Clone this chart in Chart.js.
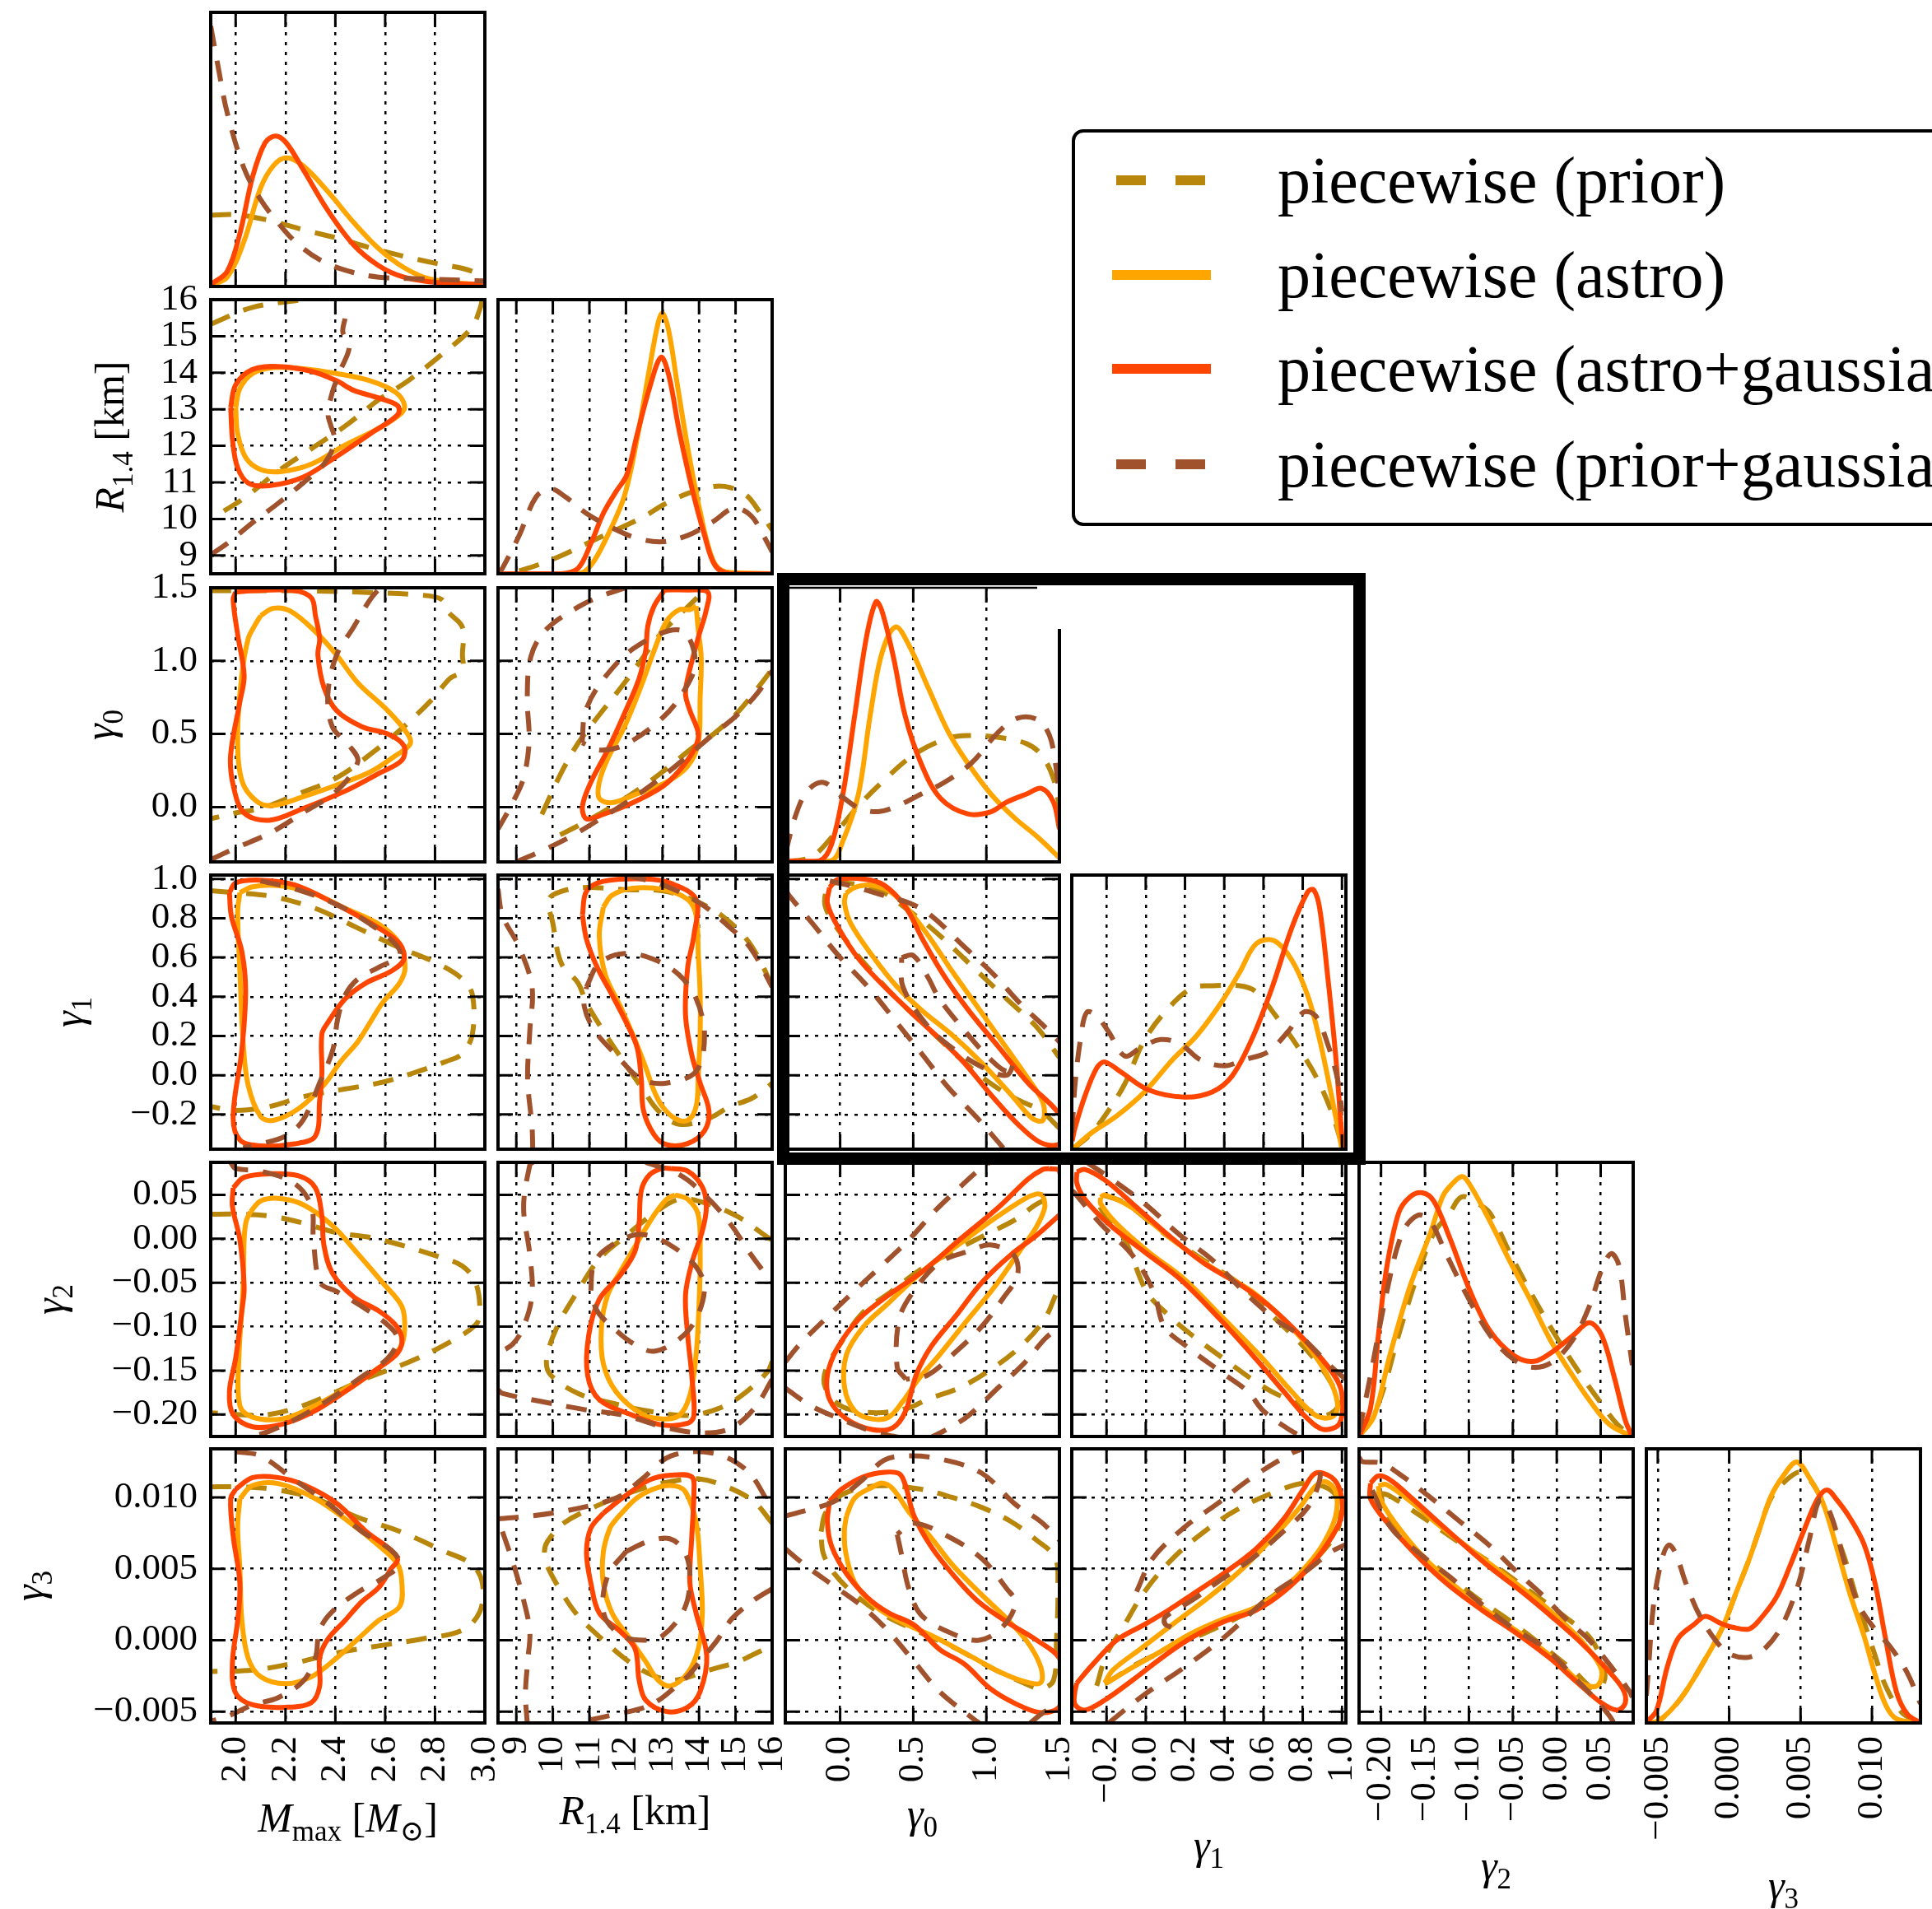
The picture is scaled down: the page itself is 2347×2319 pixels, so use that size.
<!DOCTYPE html>
<html>
<head>
<meta charset="utf-8">
<script src="https://cdn.jsdelivr.net/npm/chart.js"></script>
<style>
  html, body { margin: 0; padding: 0; background: #fff; }
  body { width: 2347px; height: 2319px; position: relative; overflow: hidden; font-family: "Liberation Serif", serif; }
  canvas { position: absolute; }
  #frame { position: absolute; left: 944px; top: 696px; width: 685px; height: 689px; border: 15px solid #000; z-index: 5; }
  #legend { position: absolute; left: 1302px; top: 157px; width: 1150px; height: 482px; box-sizing: border-box;
            border: 4px solid #000; border-radius: 14px; background: #fff; z-index: 6; }
  #legend .sw { position: absolute; height: 12px; }
  #legend .lab { position: absolute; left: 246px; font-size: 80px; line-height: 86px; white-space: nowrap; color: #000; }
</style>
</head>
<body>
<div id="legend"></div>
<div id="frame"></div>
<script>
// ---- tick values ----
const mmaxTicks = [2.0, 2.2, 2.4, 2.6, 2.8, 3.0];
const rTicks = [9, 10, 11, 12, 13, 14, 15, 16];
const g0Ticks = [0.0, 0.5, 1.0, 1.5];
const g1Ticks = [-0.2, 0.0, 0.2, 0.4, 0.6, 0.8, 1.0];
const g2Ticks = [-0.20, -0.15, -0.10, -0.05, 0.00, 0.05];
const g3Ticks = [-0.005, 0.000, 0.005, 0.010];

// ---- series ----
const seriesNames = ['piecewise (prior)', 'piecewise (astro)', 'piecewise (astro+gaussian)', 'piecewise (prior+gaussian)'];
const seriesColors = ['#B8860B', '#FFA500', '#FF4500', '#A0522D'];
const seriesDashed = [true, false, false, true];

// ---- M_max marginal ----
const mmax_pdf_prior = [[1.9,0.26],[2.0,0.262],[2.135,0.241],[2.27,0.207],[2.405,0.177],[2.54,0.141],[2.675,0.11],[2.81,0.083],[2.91,0.066],[3.0,0.04]];
const mmax_pdf_astro = [[1.9,0.004],[1.966,0.034],[2.034,0.166],[2.1,0.359],[2.152,0.441],[2.203,0.469],[2.27,0.441],[2.371,0.345],[2.473,0.234],[2.574,0.138],[2.675,0.069],[2.776,0.028],[2.91,0.011],[3.0,0.007]];
const mmax_pdf_astroG = [[1.9,0.007],[1.966,0.055],[2.017,0.193],[2.068,0.4],[2.118,0.524],[2.16,0.549],[2.203,0.524],[2.27,0.428],[2.371,0.276],[2.473,0.152],[2.574,0.076],[2.675,0.034],[2.81,0.014],[3.0,0.007]];
const mmax_pdf_priorG = [[1.9,0.95],[1.93,0.8],[1.966,0.634],[2.034,0.43],[2.1,0.317],[2.169,0.234],[2.236,0.166],[2.338,0.097],[2.456,0.055],[2.574,0.034],[2.743,0.028],[3.0,0.02]];

// ---- R_1.4 vs M_max ----
const r_mmax_astro = [[2.0,13.05],[2.017,13.57],[2.068,13.98],[2.152,14.14],[2.27,14.11],[2.405,13.98],[2.54,13.78],[2.641,13.47],[2.678,13.1],[2.658,12.85],[2.574,12.48],[2.439,12.02],[2.304,11.5],[2.186,11.3],[2.101,11.35],[2.042,11.66],[2.008,12.33],[2.0,13.05]];
const r_mmax_astroG = [[1.98,13.05],[2.0,13.67],[2.068,14.09],[2.169,14.17],[2.304,14.04],[2.405,13.78],[2.473,13.52],[2.574,13.31],[2.65,13.1],[2.65,12.85],[2.54,12.33],[2.405,11.71],[2.27,11.14],[2.135,10.91],[2.051,10.98],[2.008,11.4],[1.988,12.12],[1.98,13.05]];
const r_mmax_prior1 = [[1.9,15.33],[2.068,15.79],[2.27,16.0],[2.3,16.05]];
const r_mmax_prior2 = [[2.99,16.0],[2.98,15.74],[2.946,15.22],[2.827,14.5],[2.692,13.78],[2.574,13.26],[2.439,12.54],[2.304,11.92],[2.169,11.3],[2.034,10.57],[1.9,10.0]];
const r_mmax_priorG = [[1.9,9.02],[1.966,9.33],[2.068,9.9],[2.169,10.42],[2.27,10.98],[2.354,11.5],[2.397,12.12],[2.38,12.6],[2.371,12.85],[2.388,13.47],[2.422,14.09],[2.456,14.71],[2.43,15.12],[2.439,15.48]];

// ---- R_1.4 marginal ----
const r_pdf_prior = [[9.08,0.01],[9.54,0.03],[10.23,0.066],[10.92,0.11],[11.73,0.16],[12.54,0.212],[13.0,0.25],[13.69,0.293],[14.38,0.318],[14.84,0.315],[15.3,0.286],[15.65,0.227],[16.0,0.16]];
const r_pdf_astro = [[8.5,0],[10.69,0],[11.04,0.03],[11.5,0.14],[11.96,0.285],[12.3,0.49],[12.65,0.754],[12.88,0.915],[13.0,0.95],[13.17,0.886],[13.4,0.695],[13.69,0.46],[14.03,0.227],[14.38,0.05],[14.73,0.007],[16,0]];
const r_pdf_astroG = [[8.5,0],[10.23,0],[10.69,0.02],[11.04,0.11],[11.38,0.22],[11.73,0.3],[12.02,0.36],[12.3,0.505],[12.65,0.68],[12.96,0.79],[13.17,0.725],[13.46,0.52],[13.8,0.315],[14.15,0.14],[14.44,0.03],[14.84,0],[16,0]];
const r_pdf_priorG = [[8.5,0],[8.62,0.02],[9.08,0.14],[9.54,0.28],[9.94,0.31],[10.35,0.28],[10.92,0.22],[11.62,0.168],[12.3,0.13],[13.0,0.117],[13.69,0.14],[14.38,0.19],[14.96,0.24],[15.42,0.212],[15.76,0.14],[16.0,0.08]];

// ---- gamma0 vs M_max ----
const g0_mmax_astro = [[2.101,1.31],[2.152,1.36],[2.22,1.34],[2.32,1.2],[2.405,1.04],[2.49,0.85],[2.61,0.66],[2.69,0.5],[2.7,0.43],[2.64,0.35],[2.54,0.24],[2.405,0.15],[2.27,0.07],[2.15,0.01],[2.084,0.04],[2.025,0.18],[2.008,0.5],[2.025,0.905],[2.05,1.15],[2.076,1.24],[2.101,1.31]];
const g0_mmax_astroG = [[2.0,1.47],[2.068,1.48],[2.236,1.48],[2.304,1.43],[2.32,1.31],[2.337,1.15],[2.33,1.04],[2.354,0.82],[2.405,0.66],[2.506,0.55],[2.61,0.5],[2.675,0.42],[2.667,0.32],[2.574,0.23],[2.44,0.11],[2.27,-0.01],[2.135,-0.09],[2.034,-0.04],[1.99,0.15],[1.98,0.36],[2.017,0.72],[2.034,0.9],[2.008,1.18],[1.99,1.42],[2.0,1.47]];
const g0_mmax_prior = [[1.9,1.48],[2.0,1.48],[2.236,1.48],[2.49,1.47],[2.743,1.45],[2.827,1.42],[2.85,1.34],[2.91,1.23],[2.91,1.04],[2.91,0.93],[2.86,0.88],[2.79,0.74],[2.675,0.55],[2.54,0.36],[2.405,0.2],[2.236,0.08],[2.1,-0.01],[2.0,-0.04],[1.9,-0.08]];
const g0_mmax_priorG = [[1.9,-0.36],[2.0,-0.28],[2.135,-0.18],[2.27,-0.04],[2.405,0.11],[2.49,0.31],[2.456,0.42],[2.388,0.55],[2.37,0.77],[2.405,1.04],[2.473,1.23],[2.54,1.42],[2.59,1.52]];

// ---- gamma0 vs R_1.4 ----
const g0_r_astro = [[13.92,1.375],[13.75,1.35],[13.46,1.35],[13.11,1.27],[12.77,1.07],[12.42,0.83],[11.96,0.55],[11.5,0.33],[11.27,0.17],[11.27,0.06],[11.62,0.03],[12.3,0.09],[13.11,0.17],[13.69,0.28],[13.98,0.44],[14.03,0.75],[14.06,1.02],[13.98,1.21],[13.92,1.375]];
const g0_r_astroG = [[13.06,1.485],[13.69,1.485],[14.24,1.47],[14.2,1.35],[13.98,1.16],[13.69,0.88],[13.63,0.77],[13.75,0.66],[13.98,0.5],[13.86,0.39],[13.46,0.25],[13.0,0.14],[12.19,0.03],[11.38,-0.05],[10.92,-0.08],[10.81,0.005],[11.04,0.17],[11.5,0.39],[11.96,0.64],[12.36,0.88],[12.54,1.07],[12.6,1.24],[12.77,1.375],[13.06,1.485]];
const g0_r_prior1 = [[9.7,-0.05],[10.2,0.22],[10.7,0.44],[11.3,0.64],[11.9,0.83],[12.4,1.0],[12.9,1.17],[13.4,1.3],[13.9,1.42],[14.2,1.5]];
const g0_r_prior2 = [[10.2,-0.19],[10.9,-0.1],[11.6,0.0],[12.4,0.13],[13.2,0.28],[13.9,0.42],[14.4,0.5],[15.1,0.66],[15.9,0.91],[16.0,0.95]];
const g0_r_priorG1 = [[12.0,1.5],[11.4,1.45],[10.7,1.37],[9.8,1.21],[9.4,1.03],[9.3,0.75],[9.35,0.45],[9.2,0.2],[8.9,0.03],[8.5,-0.15]];
const g0_r_priorG2 = [[9.0,-0.375],[9.7,-0.3],[10.5,-0.2],[11.3,-0.08],[12.0,0.03],[12.8,0.17],[13.6,0.33],[14.4,0.5],[15.0,0.62],[15.6,0.78],[16.0,0.93]];
const g0_r_priorG3 = [[10.8,0.44],[10.9,0.66],[11.4,0.88],[12.3,1.1],[13.5,1.21],[13.9,1.0],[13.6,0.8],[13.0,0.61],[12.0,0.43],[11.3,0.39],[10.8,0.44]];

// ---- gamma0 marginal ----
const g0_pdf_prior = [[-0.375,0],[-0.195,0.019],[-0.035,0.104],[0.125,0.204],[0.285,0.29],[0.499,0.389],[0.712,0.447],[0.872,0.461],[1.085,0.454],[1.272,0.432],[1.379,0.389],[1.459,0.304],[1.5,0.2]];
const g0_pdf_astro = [[-0.375,0],[-0.061,0.004],[0.019,0.076],[0.125,0.247],[0.205,0.532],[0.285,0.76],[0.379,0.857],[0.472,0.789],[0.605,0.632],[0.739,0.475],[0.872,0.361],[1.032,0.247],[1.192,0.161],[1.352,0.09],[1.5,0.015]];
const g0_pdf_astroG = [[-0.375,0.004],[-0.141,0.004],[-0.061,0.061],[0.019,0.247],[0.099,0.532],[0.179,0.817],[0.245,0.949],[0.285,0.917],[0.365,0.746],[0.445,0.532],[0.552,0.361],[0.685,0.233],[0.872,0.175],[1.032,0.183],[1.139,0.218],[1.272,0.247],[1.379,0.268],[1.459,0.218],[1.5,0.12]];
const g0_pdf_priorG = [[-0.375,0.03],[-0.301,0.175],[-0.221,0.261],[-0.115,0.29],[-0.008,0.247],[0.125,0.197],[0.259,0.183],[0.392,0.204],[0.552,0.247],[0.712,0.29],[0.899,0.361],[1.085,0.475],[1.219,0.525],[1.352,0.518],[1.432,0.461],[1.472,0.361],[1.5,0.24]];

// ---- gamma1 vs M_max ----
const g1_mmax_astro = [[2.017,0.93],[2.068,0.96],[2.17,0.966],[2.304,0.93],[2.44,0.85],[2.574,0.77],[2.658,0.67],[2.68,0.55],[2.658,0.47],[2.59,0.37],[2.54,0.27],[2.49,0.17],[2.422,0.07],[2.354,-0.05],[2.253,-0.17],[2.152,-0.23],[2.1,-0.21],[2.05,-0.05],[2.03,0.17],[2.017,0.53],[2.008,0.83],[2.017,0.93]];
const g1_mmax_astroG = [[1.975,0.93],[2.0,0.98],[2.1,0.994],[2.236,0.97],[2.405,0.87],[2.574,0.75],[2.658,0.67],[2.675,0.59],[2.624,0.53],[2.523,0.47],[2.44,0.39],[2.371,0.27],[2.346,0.21],[2.346,0.01],[2.337,-0.13],[2.32,-0.31],[2.236,-0.35],[2.1,-0.36],[2.017,-0.33],[1.99,-0.21],[2.025,0.13],[2.04,0.43],[2.025,0.63],[1.983,0.81],[1.975,0.93]];
const g1_mmax_prior = [[1.9,0.94],[2.0,0.93],[2.15,0.91],[2.32,0.85],[2.49,0.75],[2.658,0.65],[2.81,0.57],[2.91,0.49],[2.95,0.41],[2.95,0.21],[2.91,0.11],[2.844,0.07],[2.71,0.01],[2.574,-0.04],[2.44,-0.07],[2.27,-0.11],[2.135,-0.16],[2.0,-0.18],[1.9,-0.16]];
const g1_mmax_priorG = [[2.1,0.99],[2.236,0.95],[2.405,0.87],[2.54,0.77],[2.64,0.67],[2.658,0.61],[2.574,0.55],[2.49,0.49],[2.44,0.41],[2.41,0.29],[2.39,0.13],[2.34,-0.03],[2.27,-0.23],[2.2,-0.31],[2.1,-0.35],[2.03,-0.37]];

// ---- gamma1 vs R_1.4 ----
const g1_r_astro = [[11.38,0.856],[11.62,0.917],[12.19,0.953],[13.0,0.947],[13.69,0.896],[13.92,0.815],[13.98,0.612],[14.03,0.41],[14.03,0.205],[13.98,0.002],[13.92,-0.16],[13.69,-0.23],[13.34,-0.22],[13.0,-0.16],[12.77,-0.08],[12.54,0.04],[12.19,0.205],[11.85,0.35],[11.44,0.51],[11.27,0.71],[11.38,0.856]];
const g1_r_astroG = [[10.81,0.815],[10.92,0.937],[11.38,0.988],[12.54,1.0],[13.23,0.978],[13.92,0.896],[13.86,0.713],[13.69,0.55],[13.63,0.307],[13.8,0.104],[14.03,-0.04],[14.27,-0.18],[14.15,-0.283],[13.69,-0.348],[13.11,-0.354],[12.77,-0.303],[12.48,-0.18],[12.42,-0.02],[12.3,0.144],[11.96,0.287],[11.62,0.409],[11.21,0.551],[10.92,0.693],[10.81,0.815]];
const g1_r_prior = [[16.0,0.45],[15.76,0.55],[15.3,0.693],[14.61,0.815],[13.92,0.886],[13.0,0.94],[12.0,0.945],[10.92,0.957],[10.23,0.937],[9.89,0.896],[10.0,0.774],[10.23,0.571],[10.69,0.47],[10.92,0.368],[11.38,0.226],[11.96,0.063],[12.42,-0.06],[12.88,-0.18],[13.46,-0.25],[14.27,-0.22],[14.84,-0.16],[15.42,-0.12],[15.88,-0.06],[16.0,-0.04]];
const g1_r_priorG1 = [[8.5,0.95],[8.62,0.815],[9.08,0.652],[9.43,0.45],[9.37,0.226],[9.31,-0.02],[9.43,-0.26],[9.45,-0.375]];
const g1_r_priorG2 = [[12.0,1.02],[13.0,0.97],[14.0,0.88],[14.8,0.76],[15.4,0.65],[16.0,0.45]];
const g1_r_priorG3 = [[10.92,0.45],[11.27,0.57],[11.96,0.62],[12.77,0.59],[13.46,0.51],[13.92,0.39],[14.15,0.205],[13.92,0.02],[13.11,-0.04],[12.42,-0.02],[11.73,0.104],[11.15,0.226],[10.86,0.35],[10.92,0.45]];

// ---- gamma1 vs gamma0 ----
const g1_g0_astro = [[0.04,0.927],[0.1,0.957],[0.217,0.968],[0.36,0.927],[0.477,0.835],[0.62,0.693],[0.766,0.53],[0.94,0.348],[1.113,0.165],[1.286,-0.018],[1.387,-0.14],[1.387,-0.23],[1.315,-0.22],[1.17,-0.1],[0.968,0.063],[0.766,0.205],[0.564,0.327],[0.39,0.45],[0.217,0.612],[0.072,0.774],[0.03,0.876],[0.04,0.927]];
const g1_g0_astroG = [[-0.072,0.957],[-0.014,0.998],[0.16,1.0],[0.303,0.968],[0.448,0.856],[0.564,0.693],[0.708,0.51],[0.882,0.327],[1.084,0.144],[1.286,-0.04],[1.5,-0.2],[1.52,-0.3],[1.49,-0.354],[1.37,-0.343],[1.23,-0.26],[1.055,-0.12],[0.824,0.083],[0.564,0.266],[0.332,0.43],[0.13,0.59],[-0.014,0.754],[-0.087,0.876],[-0.072,0.957]];
const g1_g0_prior = [[1.5,-0.27],[1.37,-0.18],[1.2,-0.12],[1.026,-0.04],[0.824,0.083],[0.62,0.226],[0.39,0.388],[0.19,0.55],[0.014,0.713],[-0.1,0.856],[-0.09,0.95],[-0.04,0.98],[0.246,0.95],[0.477,0.835],[0.68,0.713],[0.91,0.55],[1.14,0.388],[1.344,0.246],[1.5,0.09]];
const g1_g0_priorG1 = [[-0.375,0.95],[-0.35,0.917],[-0.19,0.774],[-0.014,0.612],[0.19,0.45],[0.39,0.266],[0.564,0.104],[0.737,-0.06],[0.94,-0.22],[1.084,-0.343],[1.12,-0.375]];
const g1_g0_priorG2 = [[-0.07,0.99],[0.1,0.96],[0.28,0.92],[0.477,0.876],[0.62,0.815],[0.853,0.652],[1.055,0.51],[1.228,0.368],[1.4,0.246],[1.5,0.17]];
const g1_g0_priorG3 = [[0.42,0.6],[0.5,0.61],[0.6,0.5],[0.68,0.388],[0.853,0.226],[1.026,0.083],[1.14,0.02],[1.185,0.063],[1.14,0.0],[1.0,0.03],[0.8,0.12],[0.6,0.25],[0.43,0.45],[0.42,0.6]];

// ---- gamma1 marginal ----
const g1_pdf_prior = [[-0.375,0.0],[-0.29,0.048],[-0.209,0.121],[-0.107,0.238],[-0.006,0.399],[0.116,0.515],[0.237,0.588],[0.339,0.596],[0.48,0.596],[0.562,0.574],[0.663,0.486],[0.765,0.384],[0.866,0.267],[0.947,0.136],[1.0,0.015]];
const g1_pdf_astro = [[-0.375,0],[-0.27,0.063],[-0.148,0.121],[-0.006,0.209],[0.136,0.326],[0.258,0.413],[0.38,0.53],[0.48,0.647],[0.562,0.749],[0.653,0.761],[0.744,0.69],[0.826,0.559],[0.886,0.4],[0.947,0.194],[1.0,0.0]];
const g1_pdf_astroG = [[-0.375,0.03],[-0.361,0.077],[-0.31,0.194],[-0.25,0.296],[-0.209,0.318],[-0.128,0.282],[0.014,0.216],[0.197,0.19],[0.339,0.209],[0.44,0.267],[0.54,0.4],[0.643,0.588],[0.744,0.807],[0.826,0.939],[0.856,0.946],[0.886,0.88],[0.927,0.632],[0.968,0.34],[0.998,0.063],[1.008,0]];
const g1_pdf_priorG = [[-0.375,0.06],[-0.361,0.231],[-0.33,0.413],[-0.3,0.5],[-0.25,0.486],[-0.189,0.428],[-0.107,0.34],[-0.026,0.37],[0.075,0.4],[0.176,0.384],[0.278,0.326],[0.4,0.304],[0.5,0.326],[0.623,0.355],[0.724,0.428],[0.805,0.5],[0.866,0.486],[0.927,0.384],[0.978,0.253],[1.0,0.136]];

// ---- gamma2 vs M_max ----
const g2_mmax_astroG = [[1.99,0.058],[2.034,0.07],[2.135,0.074],[2.253,0.0716],[2.32,0.058],[2.346,0.026],[2.354,-0.007],[2.388,-0.039],[2.473,-0.066],[2.574,-0.082],[2.641,-0.098],[2.667,-0.114],[2.65,-0.13],[2.574,-0.147],[2.439,-0.174],[2.304,-0.198],[2.186,-0.211],[2.068,-0.214],[1.99,-0.2],[1.975,-0.174],[2.0,-0.136],[2.025,-0.082],[2.034,-0.055],[2.017,-0.001],[1.987,0.037],[1.99,0.058]];
const g2_mmax_astro = [[2.06,0.031],[2.1,0.043],[2.17,0.046],[2.27,0.039],[2.388,0.015],[2.49,-0.017],[2.59,-0.05],[2.667,-0.077],[2.678,-0.104],[2.658,-0.125],[2.574,-0.147],[2.439,-0.171],[2.304,-0.192],[2.186,-0.205],[2.068,-0.203],[2.017,-0.19],[2.013,-0.136],[2.03,-0.055],[2.034,-0.001],[2.042,0.02],[2.06,0.031]];
const g2_mmax_prior = [[1.9,0.028],[2.0,0.028],[2.135,0.026],[2.27,0.018],[2.405,0.007],[2.54,0.0015],[2.675,-0.008],[2.81,-0.02],[2.91,-0.031],[2.963,-0.05],[2.98,-0.082],[2.963,-0.098],[2.844,-0.12],[2.69,-0.141],[2.54,-0.157],[2.405,-0.174],[2.27,-0.19],[2.135,-0.2],[2.0,-0.2],[1.9,-0.198]];
const g2_mmax_priorG = [[1.98,0.087],[2.0,0.08],[2.1,0.077],[2.236,0.063],[2.304,0.037],[2.312,-0.001],[2.34,-0.05],[2.405,-0.06],[2.506,-0.077],[2.61,-0.098],[2.65,-0.114],[2.61,-0.136],[2.506,-0.157],[2.37,-0.184],[2.236,-0.206],[2.135,-0.219],[2.068,-0.225]];

// ---- gamma2 vs R_1.4 ----
const g2_r_astro = [[13.34,0.05],[13.69,0.045],[13.98,0.027],[14.03,-0.018],[14.01,-0.064],[13.92,-0.132],[13.75,-0.178],[13.46,-0.201],[13.0,-0.205],[12.42,-0.199],[11.73,-0.174],[11.38,-0.142],[11.33,-0.1],[11.5,-0.064],[11.85,-0.037],[12.3,-0.005],[12.77,0.027],[13.11,0.045],[13.34,0.05]];
const g2_r_astroG = [[13.23,0.08],[13.69,0.077],[14.09,0.059],[14.2,0.036],[14.09,0.009],[13.8,-0.028],[13.63,-0.064],[13.69,-0.11],[13.8,-0.155],[13.86,-0.201],[13.69,-0.21],[13.0,-0.212],[12.19,-0.201],[11.27,-0.183],[10.95,-0.155],[10.98,-0.11],[11.27,-0.069],[11.85,-0.041],[12.25,-0.014],[12.36,0.018],[12.42,0.055],[12.65,0.073],[13.0,0.08],[13.23,0.08]];
const g2_r_prior = [[16.0,0.0],[15.94,0.0],[15.07,0.025],[14.15,0.041],[13.46,0.045],[12.8,0.03],[11.96,0.002],[11.27,-0.023],[10.69,-0.059],[10.12,-0.1],[9.83,-0.137],[9.94,-0.155],[10.69,-0.176],[11.62,-0.187],[12.6,-0.196],[13.69,-0.201],[14.61,-0.192],[15.3,-0.174],[15.88,-0.151],[16.0,-0.14]];
const g2_r_priorG1 = [[9.45,0.087],[9.37,0.084],[9.2,0.036],[9.37,-0.018],[9.43,-0.064],[9.2,-0.1],[8.9,-0.12],[8.5,-0.13]];
const g2_r_priorG2 = [[8.5,-0.172],[8.62,-0.176],[9.66,-0.185],[10.81,-0.194],[11.96,-0.201],[13.11,-0.215],[14.15,-0.221],[14.9,-0.215],[15.53,-0.192],[16.0,-0.16]];
const g2_r_priorG3 = [[12.54,0.087],[13.46,0.073],[14.15,0.05],[14.84,0.018],[15.42,-0.018],[16.0,-0.05]];
const g2_r_priorG4 = [[11.04,-0.059],[11.1,-0.032],[11.38,-0.014],[12.19,0.004],[12.77,0.002],[13.46,-0.014],[13.92,-0.032],[14.15,-0.055],[13.92,-0.091],[13.46,-0.114],[12.77,-0.128],[12.19,-0.119],[11.62,-0.1],[11.21,-0.082],[11.04,-0.059]];

// ---- gamma2 vs gamma0 ----
const g2_g0_astro = [[1.387,0.05],[1.4,0.036],[1.344,0.014],[1.228,-0.014],[1.055,-0.055],[0.853,-0.096],[0.68,-0.132],[0.535,-0.16],[0.42,-0.187],[0.332,-0.203],[0.217,-0.205],[0.1,-0.196],[0.03,-0.169],[0.043,-0.132],[0.16,-0.1],[0.332,-0.073],[0.564,-0.037],[0.824,-0.005],[1.055,0.023],[1.257,0.045],[1.344,0.051],[1.387,0.05]];
const g2_g0_astroG = [[1.43,0.08],[1.5,0.077],[1.52,0.03],[1.5,0.027],[1.344,0.004],[1.17,-0.018],[0.968,-0.05],[0.795,-0.087],[0.621,-0.123],[0.52,-0.155],[0.448,-0.196],[0.361,-0.215],[0.217,-0.217],[0.043,-0.205],[-0.072,-0.183],[-0.087,-0.155],[-0.014,-0.123],[0.13,-0.091],[0.332,-0.064],[0.564,-0.037],[0.824,0.0],[1.084,0.036],[1.286,0.068],[1.387,0.079],[1.43,0.08]];
const g2_g0_prior = [[1.474,-0.064],[1.4,-0.091],[1.257,-0.119],[1.055,-0.146],[0.824,-0.169],[0.592,-0.183],[0.477,-0.192],[0.246,-0.198],[0.014,-0.191],[-0.1,-0.17],[-0.1,-0.15],[0.0,-0.12],[0.15,-0.085],[0.35,-0.06],[0.55,-0.035],[0.8,-0.012],[1.0,0.005],[1.2,0.022],[1.35,0.04],[1.5,0.05]];
const g2_g0_priorG1 = [[-0.375,-0.14],[-0.27,-0.119],[-0.1,-0.091],[0.1,-0.059],[0.275,-0.032],[0.477,0.0],[0.65,0.032],[0.795,0.055],[0.94,0.077],[1.02,0.087]];
const g2_g0_priorG2 = [[-0.375,-0.17],[-0.2,-0.19],[0.0,-0.205],[0.2,-0.218],[0.45,-0.228]];
const g2_g0_priorG3 = [[0.6,-0.228],[0.75,-0.215],[0.88,-0.201],[1.084,-0.169],[1.257,-0.142],[1.4,-0.114],[1.5,-0.1]];
const g2_g0_priorG4 = [[0.45,-0.16],[0.39,-0.146],[0.405,-0.091],[0.506,-0.059],[0.68,-0.027],[0.88,-0.014],[1.026,-0.007],[1.185,-0.018],[1.214,-0.041],[1.113,-0.068],[0.968,-0.1],[0.795,-0.128],[0.6,-0.155],[0.45,-0.16]];

// ---- gamma2 vs gamma1 ----
const g2_g1_astroG = [[-0.351,0.076],[-0.31,0.079],[-0.209,0.067],[-0.067,0.04],[0.116,0.004],[0.298,-0.028],[0.5,-0.055],[0.663,-0.083],[0.826,-0.119],[0.947,-0.151],[0.998,-0.174],[0.988,-0.21],[0.907,-0.217],[0.826,-0.205],[0.704,-0.174],[0.562,-0.137],[0.38,-0.092],[0.176,-0.046],[-0.006,-0.015],[-0.189,0.017],[-0.31,0.045],[-0.351,0.063],[-0.351,0.076]];
const g2_g1_astro = [[-0.23,0.047],[-0.209,0.05],[-0.067,0.035],[0.136,-0.001],[0.339,-0.033],[0.542,-0.06],[0.704,-0.092],[0.846,-0.128],[0.947,-0.165],[0.978,-0.192],[0.947,-0.203],[0.866,-0.201],[0.744,-0.174],[0.582,-0.133],[0.38,-0.087],[0.197,-0.046],[0.014,-0.015],[-0.148,0.017],[-0.23,0.04],[-0.23,0.047]];
const g2_g1_prior = [[-0.22,0.05],[-0.1,0.04],[0.1,0.005],[0.3,-0.025],[0.5,-0.055],[0.643,-0.087],[0.826,-0.128],[0.947,-0.165],[0.98,-0.19],[0.907,-0.201],[0.75,-0.185],[0.643,-0.174],[0.542,-0.16],[0.4,-0.137],[0.237,-0.11],[0.116,-0.087],[0.004,-0.06],[-0.107,-0.001],[-0.23,0.035],[-0.22,0.05]];
const g2_g1_priorG1 = [[-0.3,0.087],[-0.168,0.067],[-0.006,0.04],[0.176,0.004],[0.339,-0.024],[0.5,-0.06],[0.663,-0.092],[0.785,-0.11],[0.947,-0.146],[1.02,-0.16]];
const g2_g1_priorG2 = [[-0.375,0.055],[-0.351,0.049],[-0.23,0.017],[-0.067,-0.019],[0.04,-0.06],[0.095,-0.1],[0.217,-0.124],[0.38,-0.151],[0.521,-0.174],[0.6,-0.196],[0.744,-0.219],[0.8,-0.225]];

// ---- gamma2 marginal ----
const g2_pdf_prior = [[-0.225,0],[-0.203,0.119],[-0.18,0.37],[-0.158,0.593],[-0.14,0.741],[-0.122,0.815],[-0.108,0.874],[-0.09,0.85],[-0.076,0.815],[-0.053,0.667],[-0.026,0.504],[0.001,0.356],[0.028,0.222],[0.051,0.119],[0.069,0.044],[0.086,0.0]];
const g2_pdf_astro = [[-0.225,0],[-0.208,0.074],[-0.19,0.296],[-0.167,0.548],[-0.144,0.741],[-0.13,0.874],[-0.122,0.911],[-0.108,0.948],[-0.099,0.919],[-0.076,0.785],[-0.053,0.637],[-0.031,0.504],[-0.008,0.356],[0.015,0.237],[0.037,0.133],[0.06,0.044],[0.086,0.0]];
const g2_pdf_astroG = [[-0.225,0],[-0.212,0.104],[-0.203,0.37],[-0.194,0.607],[-0.18,0.815],[-0.167,0.874],[-0.153,0.889],[-0.14,0.859],[-0.122,0.726],[-0.099,0.533],[-0.076,0.385],[-0.049,0.296],[-0.026,0.274],[-0.004,0.311],[0.019,0.37],[0.037,0.415],[0.051,0.37],[0.065,0.222],[0.078,0.059],[0.086,0.0]];
const g2_pdf_priorG = [[-0.225,0.015],[-0.212,0.222],[-0.194,0.519],[-0.176,0.741],[-0.158,0.807],[-0.144,0.785],[-0.126,0.667],[-0.103,0.519],[-0.076,0.37],[-0.049,0.281],[-0.026,0.252],[-0.004,0.274],[0.019,0.356],[0.037,0.474],[0.051,0.607],[0.062,0.667],[0.071,0.622],[0.078,0.444],[0.086,0.26]];

// ---- gamma3 vs M_max ----
const g3_mmax_astroG = [[2.0,0.01057],[2.068,0.01139],[2.17,0.01139],[2.27,0.0109],[2.405,0.00959],[2.523,0.00762],[2.624,0.0063],[2.65,0.00565],[2.624,0.005],[2.574,0.00368],[2.506,0.00269],[2.439,0.00138],[2.37,0.00007],[2.337,-0.00125],[2.337,-0.00322],[2.304,-0.00437],[2.2,-0.0047],[2.068,-0.00453],[2.0,-0.00371],[1.987,-0.00158],[2.008,0.00138],[2.017,0.004],[1.99,0.00729],[1.98,0.00991],[2.0,0.01057]];
const g3_mmax_astro = [[2.017,0.00991],[2.068,0.01083],[2.17,0.01097],[2.32,0.00991],[2.456,0.00827],[2.574,0.00663],[2.65,0.00532],[2.667,0.004],[2.658,0.00236],[2.574,0.00138],[2.49,0.00007],[2.405,-0.00125],[2.304,-0.00256],[2.2,-0.00305],[2.1,-0.00256],[2.05,-0.00125],[2.025,0.00138],[2.017,0.005],[2.008,0.00795],[2.017,0.00991]];
const g3_mmax_prior = [[1.9,0.01074],[2.0,0.01074],[2.15,0.01057],[2.32,0.00991],[2.49,0.0086],[2.658,0.00762],[2.827,0.0063],[2.946,0.00532],[2.99,0.004],[2.98,0.002],[2.91,0.0007],[2.743,0.00007],[2.574,-0.0004],[2.405,-0.0009],[2.236,-0.0016],[2.068,-0.0021],[1.9,-0.0022]];
const g3_mmax_priorG = [[2.0,0.0132],[2.1,0.0129],[2.236,0.01123],[2.37,0.00959],[2.506,0.00762],[2.624,0.0063],[2.658,0.00532],[2.59,0.00433],[2.49,0.00335],[2.388,0.002],[2.337,0.0007],[2.32,-0.00125],[2.27,-0.00289],[2.169,-0.00404],[2.068,-0.00453],[1.966,-0.00535],[1.9,-0.00568]];

// ---- gamma3 vs R_1.4 ----
const g3_r_astroG = [[11.38,0.0089],[11.96,0.01006],[12.65,0.01123],[13.23,0.01155],[13.8,0.01144],[13.86,0.01038],[13.8,0.0072],[13.75,0.004],[13.92,0.0019],[14.21,-0.0011],[14.03,-0.0036],[13.69,-0.0047],[13.11,-0.005],[12.54,-0.0042],[12.36,-0.0028],[12.25,-0.0006],[11.85,0.0006],[11.27,0.0019],[11.04,0.004],[10.92,0.00614],[11.04,0.00784],[11.38,0.0089]];
const g3_r_astro = [[11.73,0.00847],[12.3,0.00996],[12.88,0.0107],[13.34,0.0108],[13.63,0.01038],[13.92,0.00826],[14.03,0.00508],[14.09,0.0019],[13.98,-0.0006],[13.69,-0.0023],[13.23,-0.0032],[12.88,-0.0028],[12.54,-0.0015],[12.08,0.0002],[11.62,0.0019],[11.38,0.004],[11.38,0.00614],[11.56,0.00784],[11.73,0.00847]];
const g3_r_prior = [[16.0,0.0082],[15.5,0.0097],[14.8,0.0107],[14.0,0.0113],[13.2,0.0111],[12.3,0.0105],[11.2,0.0094],[10.3,0.0082],[9.85,0.0069],[9.77,0.0062],[9.83,0.0053],[10.23,0.0034],[10.69,0.0017],[11.38,0.0],[12.08,-0.0015],[12.77,-0.0025],[13.34,-0.0028],[14.27,-0.0021],[15.07,-0.0015],[15.65,-0.0008],[16.0,-0.0004]];
const g3_r_priorG1 = [[8.5,0.0085],[9.0,0.0086],[10.0,0.0089],[11.15,0.0095],[11.85,0.0101],[12.4,0.0112],[13.23,0.0129],[14.38,0.0131],[15.3,0.0119],[15.88,0.0097],[16.0,0.009]];
const g3_r_priorG2 = [[8.62,0.0076],[8.9,0.0055],[9.2,0.0028],[9.37,0.0006],[9.31,-0.0015],[9.25,-0.0038],[9.3,-0.0058]];
const g3_r_priorG3 = [[12.0,0.0062],[12.6,0.0069],[13.2,0.0071],[13.6,0.0062],[13.75,0.0045],[13.6,0.0022],[13.0,0.0003],[12.5,0.0],[11.9,0.0003],[11.4,0.0018],[11.5,0.0045],[12.0,0.0062]];
const g3_r_priorG4 = [[11.0,-0.0056],[11.7,-0.0052],[12.4,-0.0048],[12.9,-0.0042],[13.34,-0.0033],[13.7,-0.0025],[14.15,-0.0011],[14.5,0.0],[14.9,0.0015],[15.5,0.0028],[16.0,0.0036]];

// ---- gamma3 vs gamma0 ----
const g3_g0_astroG = [[-0.072,0.00975],[0.014,0.0106],[0.159,0.01144],[0.303,0.01176],[0.405,0.01165],[0.448,0.0108],[0.506,0.00869],[0.621,0.00657],[0.766,0.00466],[0.94,0.00275],[1.142,0.00127],[1.344,0.0],[1.5,-0.00127],[1.52,-0.003],[1.5,-0.00466],[1.373,-0.00508],[1.2,-0.00445],[1.026,-0.00339],[0.853,-0.0017],[0.68,-0.00064],[0.506,0.00106],[0.332,0.00191],[0.188,0.00297],[0.043,0.00466],[-0.058,0.00657],[-0.087,0.00826],[-0.072,0.00975]];
const g3_g0_astro = [[0.043,0.00869],[0.1,0.00996],[0.217,0.0107],[0.289,0.011],[0.361,0.01059],[0.477,0.0089],[0.621,0.0072],[0.766,0.0053],[0.968,0.00318],[1.142,0.00148],[1.286,-0.0002],[1.373,-0.0019],[1.373,-0.00297],[1.286,-0.00297],[1.113,-0.00233],[0.882,-0.00106],[0.65,0.0002],[0.419,0.00127],[0.246,0.00233],[0.1,0.00403],[0.038,0.00614],[0.029,0.00763],[0.043,0.00869]];
const g3_g0_prior = [[-0.13,0.0076],[-0.1,0.0089],[0.014,0.0102],[0.246,0.0108],[0.535,0.0106],[0.766,0.01],[0.968,0.0093],[1.17,0.0083],[1.344,0.007],[1.47,0.0058],[1.49,0.004],[1.48,0.0],[1.46,-0.0028],[1.373,-0.0034],[1.257,-0.003],[1.026,-0.0019],[0.795,-0.0006],[0.535,0.0006],[0.275,0.0019],[0.1,0.0032],[-0.043,0.0047],[-0.116,0.0061],[-0.13,0.0076]];
const g3_g0_priorG1 = [[-0.375,0.0087],[-0.3,0.0089],[-0.043,0.0097],[0.15,0.0112],[0.3,0.0126],[0.448,0.0129],[0.68,0.0127],[0.968,0.0117],[1.2,0.0095],[1.373,0.0083],[1.5,0.007]];
const g3_g0_priorG2 = [[-0.375,0.0064],[-0.246,0.0053],[-0.043,0.0038],[0.159,0.0023],[0.332,0.0006],[0.506,-0.0015],[0.68,-0.0036],[0.91,-0.0055],[0.95,-0.0058]];
const g3_g0_priorG3 = [[0.39,0.0074],[0.42,0.006],[0.47,0.0036],[0.56,0.0017],[0.78,0.0004],[0.95,0.0],[1.1,0.0008],[1.2,0.0026],[1.14,0.0036],[0.97,0.0057],[0.75,0.0072],[0.5,0.0082],[0.39,0.0074]];
const g3_g0_priorG4 = [[1.3,-0.0058],[1.4,-0.005],[1.5,-0.0045]];

// ---- gamma3 vs gamma1 ----
const g3_g1_astroG = [[-0.351,-0.003],[-0.27,-0.0017],[-0.148,0.0],[-0.006,0.0011],[0.116,0.0021],[0.237,0.0032],[0.4,0.0047],[0.562,0.0064],[0.704,0.0085],[0.805,0.0106],[0.866,0.0117],[0.947,0.0114],[0.992,0.0104],[0.998,0.0087],[0.947,0.0072],[0.846,0.0053],[0.704,0.0034],[0.562,0.0021],[0.4,0.0013],[0.237,0.0002],[0.095,-0.0011],[-0.067,-0.0028],[-0.209,-0.0042],[-0.31,-0.0049],[-0.361,-0.0045],[-0.361,-0.0036],[-0.351,-0.003]];
const g3_g1_astro = [[-0.209,-0.003],[-0.168,-0.0021],[-0.026,-0.0006],[0.136,0.0011],[0.339,0.0032],[0.5,0.0051],[0.663,0.0074],[0.785,0.0093],[0.866,0.0108],[0.917,0.0111],[0.968,0.0104],[0.968,0.0087],[0.907,0.0068],[0.826,0.0053],[0.704,0.0036],[0.562,0.0023],[0.4,0.0015],[0.237,0.0005],[0.075,-0.0008],[-0.067,-0.0019],[-0.189,-0.0029],[-0.209,-0.003]];
const g3_g1_prior = [[-0.25,-0.0032],[-0.2,-0.001],[-0.12,0.0008],[-0.006,0.0034],[0.136,0.0057],[0.298,0.0076],[0.46,0.0091],[0.663,0.0104],[0.82,0.011],[0.96,0.0103],[0.99,0.0085],[0.95,0.007],[0.75,0.0042],[0.55,0.0022],[0.35,0.0008],[0.15,-0.0004],[-0.05,-0.0017],[-0.2,-0.003],[-0.25,-0.0032]];
const g3_g1_priorG1 = [[-0.047,0.0034],[0.034,0.0057],[0.197,0.0079],[0.359,0.0095],[0.542,0.0114],[0.744,0.0131],[0.8,0.0134]];
const g3_g1_priorG2 = [[0.13,0.0009],[0.1,0.0011],[0.095,0.0015],[0.116,0.0018],[0.237,0.0028],[0.38,0.0042],[0.54,0.0057],[0.684,0.0074],[0.826,0.0093],[0.886,0.0112],[0.886,0.0125]];
const g3_g1_priorG3 = [[-0.189,-0.0058],[-0.006,-0.0038],[0.197,-0.0019],[0.4,0.0002],[0.643,0.0032],[0.805,0.0047],[0.947,0.0062],[1.02,0.0067]];

// ---- gamma3 vs gamma2 ----
const g3_g2_astroG = [[-0.212,0.011],[-0.203,0.0115],[-0.189,0.0112],[-0.166,0.01],[-0.139,0.0085],[-0.108,0.0068],[-0.076,0.0051],[-0.04,0.0034],[-0.003,0.0015],[0.028,-0.0002],[0.055,-0.0019],[0.075,-0.0034],[0.078,-0.0044],[0.069,-0.0049],[0.051,-0.0044],[0.024,-0.003],[-0.007,-0.0013],[-0.044,0.0004],[-0.085,0.0021],[-0.126,0.004],[-0.162,0.0061],[-0.194,0.0083],[-0.212,0.0099],[-0.212,0.011]];
const g3_g2_astro = [[-0.203,0.0108],[-0.194,0.0109],[-0.166,0.0097],[-0.135,0.0081],[-0.099,0.0064],[-0.062,0.0047],[-0.026,0.003],[0.006,0.0013],[0.033,-0.0004],[0.051,-0.0021],[0.046,-0.0032],[0.028,-0.003],[0.001,-0.0015],[-0.035,0.0002],[-0.076,0.0019],[-0.116,0.0038],[-0.153,0.0059],[-0.185,0.0083],[-0.201,0.0099],[-0.203,0.0108]];
const g3_g2_prior = [[-0.2,0.0103],[-0.19,0.0101],[-0.15,0.0085],[-0.11,0.0068],[-0.07,0.0052],[-0.03,0.0034],[0.01,0.0016],[0.04,0.0],[0.055,-0.0025],[0.045,-0.0035],[0.02,-0.0022],[-0.01,-0.0007],[-0.05,0.0012],[-0.09,0.0029],[-0.13,0.0048],[-0.165,0.0066],[-0.195,0.0088],[-0.2,0.0103]];
const g3_g2_priorG1 = [[-0.225,0.0128],[-0.221,0.0125],[-0.2,0.0124],[-0.176,0.0115],[-0.144,0.01],[-0.11,0.0083],[-0.076,0.0066],[-0.044,0.0047],[-0.017,0.0032],[0.01,0.0015],[0.037,0.0],[0.065,-0.0021],[0.083,-0.0036],[0.086,-0.004]];
const g3_g2_priorG2 = [[-0.21,0.0105],[-0.189,0.0079],[-0.157,0.0061],[-0.121,0.0044],[-0.085,0.0025],[-0.049,0.0008],[-0.012,-0.0006],[0.015,-0.0023],[0.042,-0.004],[0.06,-0.0053],[0.065,-0.0058]];

// ---- gamma3 marginal ----
const g3_pdf_prior = [[-0.0058,0],[-0.0049,0.009],[-0.00338,0.09],[-0.00185,0.217],[-0.00051,0.343],[0.00045,0.47],[0.0014,0.597],[0.00216,0.712],[0.00293,0.82],[0.00388,0.88],[0.00503,0.914],[0.00637,0.827],[0.0079,0.631],[0.00904,0.435],[0.01019,0.251],[0.01095,0.136],[0.0121,0.038],[0.0134,0.0]];
const g3_pdf_astro = [[-0.0058,0],[-0.0049,0.009],[-0.00338,0.09],[-0.00185,0.217],[-0.00051,0.343],[0.00045,0.47],[0.0014,0.597],[0.00216,0.712],[0.00293,0.827],[0.00388,0.908],[0.00474,0.952],[0.0056,0.896],[0.00656,0.804],[0.00751,0.643],[0.00847,0.47],[0.00943,0.32],[0.01019,0.182],[0.01095,0.067],[0.01172,0.015],[0.0134,0.0]];
const g3_pdf_astroG = [[-0.0058,0.003],[-0.0051,0.044],[-0.00433,0.205],[-0.00357,0.309],[-0.00242,0.361],[-0.00166,0.389],[-0.0007,0.366],[0.00025,0.349],[0.0014,0.343],[0.00216,0.378],[0.00331,0.459],[0.00427,0.574],[0.00522,0.7],[0.00618,0.816],[0.00685,0.85],[0.00751,0.816],[0.00847,0.747],[0.00943,0.654],[0.01019,0.516],[0.01095,0.309],[0.01172,0.113],[0.01248,0.032],[0.0134,0.0]];
const g3_pdf_priorG = [[-0.0058,0.1],[-0.00567,0.182],[-0.00529,0.435],[-0.00471,0.597],[-0.00424,0.649],[-0.00376,0.62],[-0.003,0.505],[-0.00204,0.389],[-0.00089,0.297],[0.00006,0.251],[0.0014,0.24],[0.00255,0.274],[0.0037,0.355],[0.00484,0.505],[0.0056,0.666],[0.00637,0.816],[0.00713,0.758],[0.00809,0.585],[0.00904,0.435],[0.01019,0.343],[0.01134,0.274],[0.01248,0.182],[0.0134,0.07]];

// ---- which curves go in which panel: [row, col, [[series, points], ...]] ----
const panels = [
  [0, 0, [[0, mmax_pdf_prior], [1, mmax_pdf_astro], [2, mmax_pdf_astroG], [3, mmax_pdf_priorG]]],
  [1, 0, [[0, r_mmax_prior1], [0, r_mmax_prior2], [1, r_mmax_astro], [2, r_mmax_astroG], [3, r_mmax_priorG]]],
  [1, 1, [[0, r_pdf_prior], [1, r_pdf_astro], [2, r_pdf_astroG], [3, r_pdf_priorG]]],
  [2, 0, [[0, g0_mmax_prior], [1, g0_mmax_astro], [2, g0_mmax_astroG], [3, g0_mmax_priorG]]],
  [2, 1, [[0, g0_r_prior1], [0, g0_r_prior2], [1, g0_r_astro], [2, g0_r_astroG], [3, g0_r_priorG1], [3, g0_r_priorG2], [3, g0_r_priorG3]]],
  [2, 2, [[0, g0_pdf_prior], [1, g0_pdf_astro], [2, g0_pdf_astroG], [3, g0_pdf_priorG]]],
  [3, 0, [[0, g1_mmax_prior], [1, g1_mmax_astro], [2, g1_mmax_astroG], [3, g1_mmax_priorG]]],
  [3, 1, [[0, g1_r_prior], [1, g1_r_astro], [2, g1_r_astroG], [3, g1_r_priorG1], [3, g1_r_priorG2], [3, g1_r_priorG3]]],
  [3, 2, [[0, g1_g0_prior], [1, g1_g0_astro], [2, g1_g0_astroG], [3, g1_g0_priorG1], [3, g1_g0_priorG2], [3, g1_g0_priorG3]]],
  [3, 3, [[0, g1_pdf_prior], [1, g1_pdf_astro], [2, g1_pdf_astroG], [3, g1_pdf_priorG]]],
  [4, 0, [[0, g2_mmax_prior], [1, g2_mmax_astro], [2, g2_mmax_astroG], [3, g2_mmax_priorG]]],
  [4, 1, [[0, g2_r_prior], [1, g2_r_astro], [2, g2_r_astroG], [3, g2_r_priorG1], [3, g2_r_priorG2], [3, g2_r_priorG3], [3, g2_r_priorG4]]],
  [4, 2, [[0, g2_g0_prior], [1, g2_g0_astro], [2, g2_g0_astroG], [3, g2_g0_priorG1], [3, g2_g0_priorG2], [3, g2_g0_priorG3], [3, g2_g0_priorG4]]],
  [4, 3, [[0, g2_g1_prior], [1, g2_g1_astro], [2, g2_g1_astroG], [3, g2_g1_priorG1], [3, g2_g1_priorG2]]],
  [4, 4, [[0, g2_pdf_prior], [1, g2_pdf_astro], [2, g2_pdf_astroG], [3, g2_pdf_priorG]]],
  [5, 0, [[0, g3_mmax_prior], [1, g3_mmax_astro], [2, g3_mmax_astroG], [3, g3_mmax_priorG]]],
  [5, 1, [[0, g3_r_prior], [1, g3_r_astro], [2, g3_r_astroG], [3, g3_r_priorG1], [3, g3_r_priorG2], [3, g3_r_priorG3], [3, g3_r_priorG4]]],
  [5, 2, [[0, g3_g0_prior], [1, g3_g0_astro], [2, g3_g0_astroG], [3, g3_g0_priorG1], [3, g3_g0_priorG2], [3, g3_g0_priorG3], [3, g3_g0_priorG4]]],
  [5, 3, [[0, g3_g1_prior], [1, g3_g1_astro], [2, g3_g1_astroG], [3, g3_g1_priorG1], [3, g3_g1_priorG2], [3, g3_g1_priorG3]]],
  [5, 4, [[0, g3_g2_prior], [1, g3_g2_astro], [2, g3_g2_astroG], [3, g3_g2_priorG1], [3, g3_g2_priorG2]]],
  [5, 5, [[0, g3_pdf_prior], [1, g3_pdf_astro], [2, g3_pdf_astroG], [3, g3_pdf_priorG]]],
];

// ---- layout / style ----
const PAGE_H = 2319;
const SIZE = 333;
const colLeft = [256, 605, 954, 1302, 1651, 2000];
const rowTop = [15, 364, 714, 1063, 1412, 1760];
const FONT = '"Liberation Serif", "DejaVu Serif", serif';
const TICK_FONT = 45;
const LW = 6;
const DASH = [25, 18];
const TICK = 18;
const TITLE_SIZE = 50, SUB_SIZE = 35, SUB_DROP = 11;

// axis variables: range, ticks, decimals, title pieces [text, italic, subscript], title positions
const axes = [
  { min: 1.9, max: 3.0, ticks: mmaxTicks, dec: 1, xBase: 2225, yBase: null,
    title: [['M', 1, 0], ['max', 0, 1], [' [', 0, 0], ['M', 1, 0], ['\u2299', 0, 1], [']', 0, 0]] },
  { min: 8.5, max: 16.0, ticks: rTicks, dec: 0, xBase: 2216, yBase: 150,
    title: [['R', 1, 0], ['1.4', 0, 1], [' [km]', 0, 0]] },
  { min: -0.375, max: 1.5, ticks: g0Ticks, dec: 1, xBase: 2220, yBase: 138,
    title: [['\u03b3', 1, 0], ['0', 0, 1]] },
  { min: -0.377, max: 1.02, ticks: g1Ticks, dec: 1, xBase: 2258, yBase: 100,
    title: [['\u03b3', 1, 0], ['1', 0, 1]] },
  { min: -0.225, max: 0.087, ticks: g2Ticks, dec: 2, xBase: 2283, yBase: 77,
    title: [['\u03b3', 1, 0], ['2', 0, 1]] },
  { min: -0.0058, max: 0.0134, ticks: g3Ticks, dec: 3, xBase: 2307, yBase: 52,
    title: [['\u03b3', 1, 0], ['3', 0, 1]] },
];

function fmt(v, dec) {
  return v.toFixed(dec).replace('-', '\u2212');
}

function drawMath(ctx, parts, x, y, vertical) {
  ctx.save();
  ctx.translate(x, y);
  if (vertical) ctx.rotate(-Math.PI / 2);
  ctx.fillStyle = '#000';
  ctx.textAlign = 'left';
  ctx.textBaseline = 'alphabetic';
  const fonts = parts.map(p => (p[1] ? 'italic ' : '') + (p[2] ? SUB_SIZE : TITLE_SIZE) + 'px ' + FONT);
  const widths = parts.map((p, i) => { ctx.font = fonts[i]; return ctx.measureText(p[0]).width; });
  let cx = -widths.reduce((s, w) => s + w, 0) / 2;
  parts.forEach((p, i) => {
    ctx.font = fonts[i];
    ctx.fillText(p[0], cx, p[2] ? SUB_DROP : 0);
    cx += widths[i];
  });
  ctx.restore();
}

// panel frame, inward ticks and math axis titles
const panelFrame = {
  id: 'panelFrame',
  afterDraw(chart, args, o) {
    const { ctx, chartArea: a } = chart;
    const xs = chart.scales.x, ys = chart.scales.y;
    ctx.save();
    ctx.setLineDash([]);
    ctx.strokeStyle = '#000';
    ctx.lineWidth = 3;
    ctx.beginPath();
    xs.ticks.forEach(t => {
      const px = xs.getPixelForValue(t.value);
      if (px < a.left + 3 || px > a.right - 3) return;
      ctx.moveTo(px, a.bottom); ctx.lineTo(px, a.bottom - TICK);
      ctx.moveTo(px, a.top); ctx.lineTo(px, a.top + TICK);
    });
    if (!o.diag) {
      ys.ticks.forEach(t => {
        const py = ys.getPixelForValue(t.value);
        if (py < a.top + 3 || py > a.bottom - 3) return;
        ctx.moveTo(a.left, py); ctx.lineTo(a.left + TICK, py);
        ctx.moveTo(a.right, py); ctx.lineTo(a.right - TICK, py);
      });
    }
    ctx.stroke();
    ctx.lineWidth = 4;
    if (o.cut) {
      ctx.beginPath();
      ctx.moveTo(a.left, a.top); ctx.lineTo(a.left, a.bottom);
      ctx.lineTo(a.right, a.bottom); ctx.lineTo(a.right, a.top + 50);
      ctx.stroke();
      ctx.lineWidth = 2.5;
      ctx.beginPath(); ctx.moveTo(a.left, a.top); ctx.lineTo(a.left + 306, a.top); ctx.stroke();
    } else {
      ctx.strokeRect(a.left, a.top, a.right - a.left, a.bottom - a.top);
    }
    if (o.xTitle) drawMath(ctx, o.xTitle.title, (a.left + a.right) / 2, o.xTitle.xBase - o.oy, false);
    if (o.yTitle) drawMath(ctx, o.yTitle.title, o.yTitle.yBase - o.ox, (a.top + a.bottom) / 2, true);
    ctx.restore();
  }
};

function edgeGrid(ax) {
  return c => {
    const v = c.tick ? c.tick.value : null;
    if (v === null || Math.abs(v - ax.min) < 1e-9 || Math.abs(v - ax.max) < 1e-9) return 'rgba(0,0,0,0)';
    return '#000';
  };
}

function zeroPad(s) {
  s.paddingLeft = 0; s.paddingRight = 0; s.paddingTop = 0; s.paddingBottom = 0;
}

panels.forEach(([r, c, lines]) => {
  const diag = r === c;
  const vx = axes[c], vy = axes[r];
  const left = colLeft[c], top = rowTop[r];
  const ML = c === 0 ? left : 30, MR = 30, MT = 30;
  const MB = r === 5 ? PAGE_H - (top + SIZE) : 30;

  const cv = document.createElement('canvas');
  cv.width = ML + SIZE + MR;
  cv.height = MT + SIZE + MB;
  cv.style.left = (left - ML) + 'px';
  cv.style.top = (top - MT) + 'px';
  document.body.appendChild(cv);

  const datasets = lines.map(([s, pts]) => ({
    label: seriesNames[s],
    data: pts.map(([x, y]) => ({ x, y })),
    showLine: true,
    fill: false,
    pointRadius: 0,
    borderWidth: LW,
    borderColor: seriesColors[s],
    borderDash: seriesDashed[s] ? DASH : [],
    tension: 0.35,
    clip: 0,
    order: 4 - s
  }));

  new Chart(cv, {
    type: 'scatter',
    data: { datasets },
    plugins: [panelFrame],
    options: {
      responsive: false,
      animation: false,
      devicePixelRatio: 1,
      events: [],
      layout: { padding: { left: c === 0 ? 0 : ML, right: MR, top: MT, bottom: r === 5 ? 0 : MB } },
      plugins: {
        legend: { display: false },
        tooltip: { enabled: false },
        panelFrame: {
          diag, cut: r === 2 && c === 2,
          ox: left - ML, oy: top - MT,
          xTitle: r === 5 ? vx : null,
          yTitle: (c === 0 && !diag) ? vy : null
        }
      },
      scales: {
        x: {
          type: 'linear', min: vx.min, max: vx.max,
          afterBuildTicks: s => { s.ticks = vx.ticks.map(v => ({ value: v })); },
          afterFit: s => { s.height = r === 5 ? MB : 0; zeroPad(s); },
          ticks: {
            display: r === 5, autoSkip: false, minRotation: 90, maxRotation: 90, padding: 16,
            color: '#000', font: { family: FONT, size: TICK_FONT },
            callback: v => fmt(v, vx.dec)
          },
          grid: { color: edgeGrid(vx), lineWidth: 2.5, drawTicks: false },
          border: { display: false, dash: [4, 8] }
        },
        y: {
          type: 'linear',
          min: diag ? 0 : vy.min, max: diag ? 1 : vy.max,
          afterBuildTicks: s => { s.ticks = diag ? [] : vy.ticks.map(v => ({ value: v })); },
          afterFit: s => { s.width = c === 0 ? ML : 0; zeroPad(s); },
          ticks: {
            display: c === 0 && !diag, autoSkip: false, padding: 16,
            color: '#000', font: { family: FONT, size: TICK_FONT },
            callback: v => fmt(v, vy.dec)
          },
          grid: { display: !diag, color: edgeGrid(vy), lineWidth: 2.5, drawTicks: false },
          border: { display: false, dash: [4, 8] }
        }
      }
    }
  });
});

// ---- legend ----
const legend = document.getElementById('legend');
const rowCenters = [58, 173, 287, 403];
seriesNames.forEach((name, i) => {
  const cy = rowCenters[i];
  const parts = seriesDashed[i] ? [[50, 36], [122, 36]] : [[45, 120]];
  parts.forEach(([x, w]) => {
    const d = document.createElement('div');
    d.className = 'sw';
    d.style.left = x + 'px';
    d.style.width = w + 'px';
    d.style.top = (cy - 6) + 'px';
    d.style.background = seriesColors[i];
    legend.appendChild(d);
  });
  const t = document.createElement('div');
  t.className = 'lab';
  t.style.top = (cy - 43) + 'px';
  t.textContent = name;
  legend.appendChild(t);
});
</script>
</body>
</html>
